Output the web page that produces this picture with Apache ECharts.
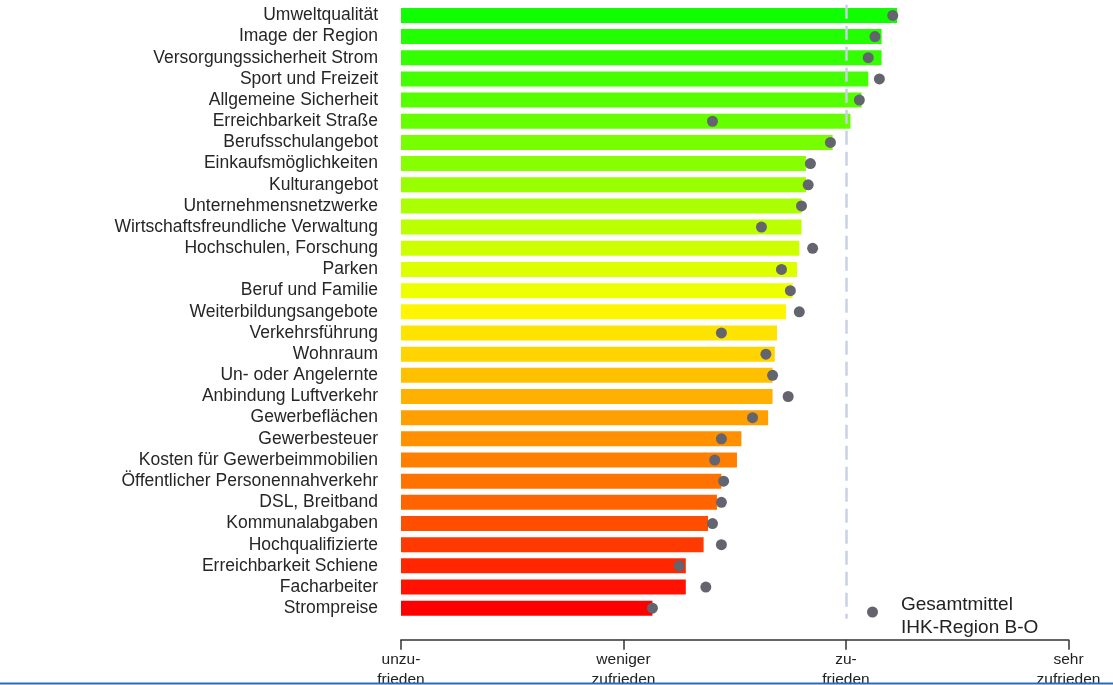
<!DOCTYPE html>
<html>
<head>
<meta charset="utf-8">
<script src="https://cdn.jsdelivr.net/npm/echarts@6/dist/echarts.min.js"></script>
<style>
html,body{margin:0;padding:0;background:#fff;}
#chart{width:1113px;height:685px;}
</style>
</head>
<body>
<div id="chart"></div>
<script>
const categories = [
  "Umweltqualität","Image der Region","Versorgungssicherheit Strom","Sport und Freizeit",
  "Allgemeine Sicherheit","Erreichbarkeit Straße","Berufsschulangebot","Einkaufsmöglichkeiten",
  "Kulturangebot","Unternehmensnetzwerke","Wirtschaftsfreundliche Verwaltung","Hochschulen, Forschung",
  "Parken","Beruf und Familie","Weiterbildungsangebote","Verkehrsführung","Wohnraum",
  "Un- oder Angelernte","Anbindung Luftverkehr","Gewerbeflächen","Gewerbesteuer",
  "Kosten für Gewerbeimmobilien","Öffentlicher Personennahverkehr","DSL, Breitband",
  "Kommunalabgaben","Hochqualifizierte","Erreichbarkeit Schiene","Facharbeiter","Strompreise"
];
const regionValues = [
  3.23,3.16,3.16,3.10,3.07,3.02,2.94,2.82,2.82,2.80,2.80,2.79,2.78,2.76,2.73,
  2.69,2.68,2.67,2.67,2.65,2.53,2.51,2.44,2.42,2.38,2.36,2.28,2.28,2.13
];
const overallMean = [
  3.21,3.13,3.10,3.15,3.06,2.40,2.93,2.84,2.83,2.80,2.62,2.85,2.71,2.75,2.79,
  2.44,2.64,2.67,2.74,2.58,2.44,2.41,2.45,2.44,2.40,2.44,2.25,2.37,2.13
];
const tickLabels = {1:"unzu-\nfrieden",2:"weniger\nzufrieden",3:"zu-\nfrieden",4:"sehr\nzufrieden"};
const referenceValue = 3;
const legendName = "Gesamtmittel\nIHK-Region B-O";

// style palette (top green -> bottom red)
const barColors = [
  "#10ff00","#22ff00","#33ff00","#44ff00","#55ff00","#66ff00","#77ff00","#88ff00",
  "#99ff00","#aaff00","#bbff00","#ccff00","#ddff00","#eeff00","#fff500","#ffe300",
  "#ffd400","#ffc000","#ffb000","#ff9f00","#ff9000","#ff8000","#ff7200","#ff6400",
  "#ff4e00","#ff3a00","#ff2600","#ff1200","#ff0000"
];

const chart = echarts.init(document.getElementById('chart'));
const FONT = '"Liberation Sans", Arial, sans-serif';
chart.setOption({
  animation: false,
  backgroundColor: '#ffffff',
  textStyle: { fontFamily: FONT },
  grid: { left: 401, right: 44.5, top: 4.8, height: 614, containLabel: false, outerBoundsMode: 'none' },
  xAxis: {
    type: 'value', min: 1, max: 4, interval: 1, offset: 21,
    axisLine: { show: true, lineStyle: { color: '#333', width: 1.5 } },
    axisTick: { show: true, length: 10, lineStyle: { color: '#333', width: 1.5 } },
    splitLine: { show: false },
    axisLabel: {
      margin: 10, fontSize: 15.5, lineHeight: 20, color: '#222', fontFamily: FONT,
      formatter: v => tickLabels[v] || ''
    }
  },
  yAxis: {
    type: 'category', data: categories, inverse: true,
    axisLine: { show: false }, axisTick: { show: false },
    axisLabel: { interval: 0, margin: 23, fontSize: 17.5, color: '#262626', fontFamily: FONT }
  },
  series: [
    {
      type: 'bar', name: 'Region', barWidth: 15,
      data: regionValues.map((v, i) => ({ value: v, itemStyle: { color: barColors[i] } })),
      z: 2,
      markLine: {
        silent: true, symbol: 'none', label: { show: false },
        lineStyle: { color: '#c9d1e4', width: 2.5, type: [14, 7] },
        data: [{ xAxis: referenceValue }]
      }
    },
    {
      type: 'scatter', name: legendName, symbol: 'circle', symbolSize: 11,
      itemStyle: { color: '#63646e', opacity: 1 },
      data: overallMean, z: 5
    }
  ],
  graphic: [
    {
      type: 'line', shape: { x1: 0, y1: 683.5, x2: 1113, y2: 683.5 },
      style: { stroke: '#2a6ebb', lineWidth: 2 }, silent: true, z: 100
    },
    {
      type: 'circle', shape: { cx: 872.5, cy: 612, r: 5.5 },
      style: { fill: '#63646e' }, silent: true, z: 100
    },
    {
      type: 'text', x: 901, y: 593.5, silent: true, z: 100,
      style: { text: legendName, font: '19px "Liberation Sans", Arial, sans-serif',
               lineHeight: 23, fill: '#222', verticalAlign: 'top', align: 'left' }
    }
  ]
});
</script>
</body>
</html>
